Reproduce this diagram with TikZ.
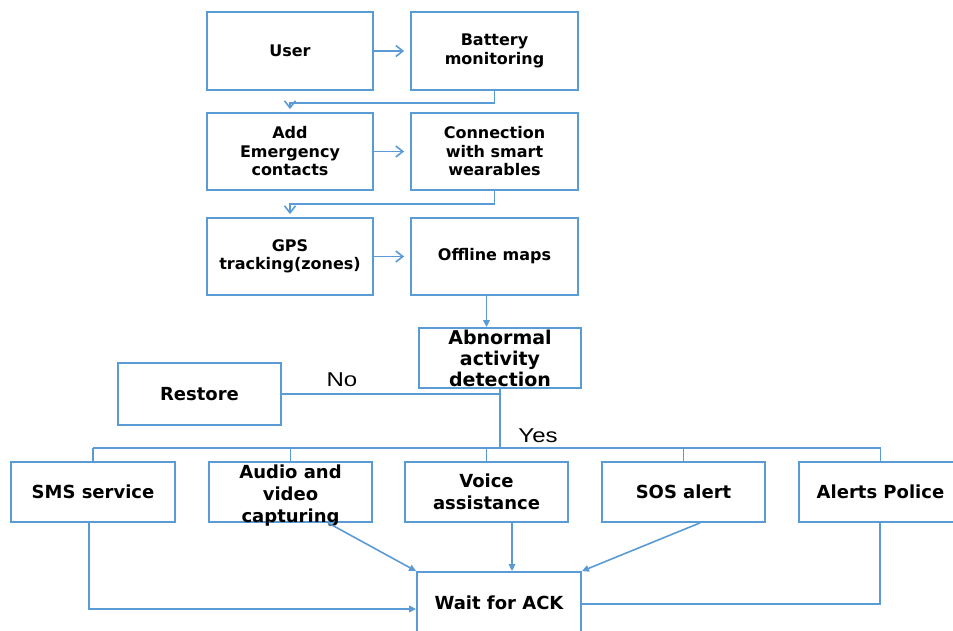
\documentclass[tikz,border=0pt]{standalone}
\usepackage{graphicx}
\usepackage{fontspec}
\setmainfont{DejaVu Sans}
\newfontfamily\lblfont{Liberation Sans}
\usetikzlibrary{arrows.meta,calc}
\definecolor{lnblue}{RGB}{91,155,213}
\begin{document}
\begin{tikzpicture}[x=1pt,y=-1pt,
  box/.style={draw=lnblue,line width=1.8pt,align=center,inner sep=0pt,text=black},
  topbox/.style={box,minimum width=166pt,minimum height=77pt,font=\fontsize{16}{18.5}\selectfont\bfseries},
  abnbox/.style={box,minimum width=162pt,minimum height=60pt,font=\fontsize{19}{21}\selectfont\bfseries},
  botbox/.style={box,minimum width=163pt,minimum height=60pt,font=\fontsize{18}{22}\selectfont\bfseries},
  conn/.style={draw=lnblue,line width=1.6pt},
  opena/.style={conn,-{Straight Barb[length=7pt,width=11pt]}},
  filla/.style={conn,-{Triangle[length=7pt,width=6.5pt]}},
  lbl/.style={inner sep=0pt,font=\lblfont\fontsize{20}{24}\selectfont}]
\path[use as bounding box] (0,0) rectangle (953,631);
\clip (0,0) rectangle (953,631);
% top rows
\node[topbox,minimum height=78pt] (user) at (290,51) {User};
\node[topbox,minimum height=78pt,minimum width=167pt] (battery) at (494.5,51) {Battery\\monitoring};
\node[topbox] (add) at (290,151.5) {Add\\Emergency\\contacts};
\node[topbox,minimum width=167pt] (connw) at (494.5,151.5) {Connection\\with smart\\wearables};
\node[topbox] (gps) at (290,256.5) {GPS\\tracking(zones)};
\node[topbox,minimum width=167pt] (offline) at (494.5,256.5) {Offline maps};
% decision
\node[abnbox] (abn) at (500,358) {Abnormal\\activity\\detection};
\node[botbox,minimum height=62pt] (restore) at (199.5,394) {Restore};
% actions
\node[botbox,minimum width=164pt] (sms) at (93,492) {SMS service};
\node[botbox] (audio) at (290.5,492) {\raisebox{-8.5pt}[0pt][0pt]{\begin{tabular}{@{}c@{}}Audio and\\video\\capturing\end{tabular}}};
\node[botbox] (voice) at (486.5,492) {Voice\\assistance};
\node[botbox] (sos) at (683.5,492) {SOS alert};
\node[botbox] (alerts) at (880.5,492) {Alerts Police};
\node[botbox,minimum width=164pt,minimum height=62pt] (wait) at (499,603) {Wait for ACK};
% labels
\node[lbl] (lblno) at (342,380) {\scalebox{1.2}[1]{No}};
\node[lbl] (lblyes) at (538,436) {\scalebox{1.2}[1]{Yes}};
\coordinate (busY) at (0,448);
% top connectors
\draw[opena,shorten >=6pt] (user.east) -- (battery.west);
\draw[opena,shorten >=6pt] (add.east) -- (connw.west);
\draw[opena,shorten >=6pt] (gps.east) -- (offline.west);
\draw[opena,shorten >=3pt] (battery.south) -- ++(0,12) -| (add.north);
\draw[opena,shorten >=3pt] (connw.south) -- ++(0,13) -| (gps.north);
\draw[filla] ([xshift=-8pt]offline.south) -- ([xshift=-8pt]offline.south |- abn.north);
% decision connectors
\draw[conn] (abn.south) -- (abn.south |- busY);
\draw[conn] (restore.east) -- (restore.east -| abn.south);
\draw[conn] (sms.north |- busY) -- (alerts.north |- busY);
\foreach \n in {sms,audio,voice,sos,alerts}
  \draw[conn] (\n.north |- busY) -- (\n.north);
% bottom connectors
\draw[filla] ([xshift=-4pt]sms.south) |- ([yshift=-6pt]wait.west);
\draw[filla] ([xshift=37.5pt]audio.south) -- (wait.north west);
\draw[filla] ([xshift=25.5pt]voice.south) -- ([xshift=25.5pt]voice.south |- wait.north);
\draw[filla] ([xshift=16.5pt]sos.south) -- (wait.north east);
\draw[conn] ([xshift=-0.5pt]alerts.south) |- ([yshift=-1pt]wait.east);
\end{tikzpicture}
\end{document}
